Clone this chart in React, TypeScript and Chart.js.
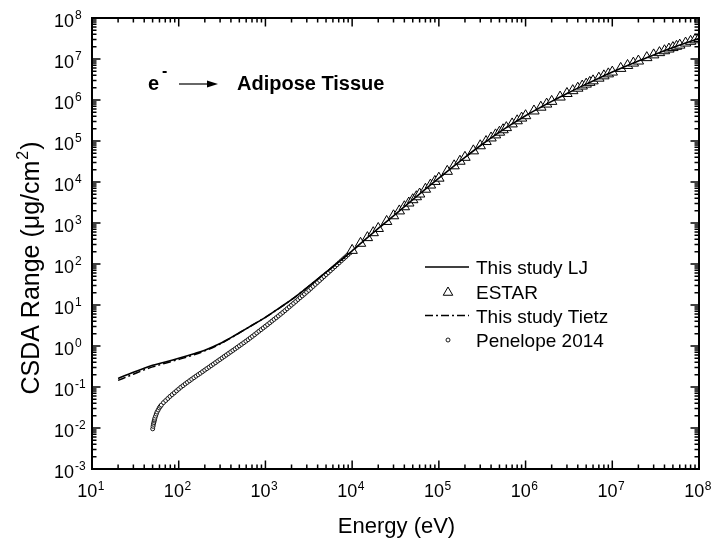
import React, { useEffect, useRef } from "react";
import { Chart, registerables } from "chart.js";
Chart.register(...registerables);

const FONT = '"Liberation Sans", Arial, Helvetica, sans-serif';

// Axis decades (tick labels 10^n)
const X_DECADES = [1, 2, 3, 4, 5, 6, 7, 8];
const Y_DECADES = [-3, -2, -1, 0, 1, 2, 3, 4, 5, 6, 7, 8];

// This study LJ (energy eV, CSDA range ug/cm2)
const LJ_E = [20, 30, 40, 50, 70, 100, 150, 200, 300, 400, 500, 700, 1000, 1500, 2000, 3000, 5000, 7000,
  1e4, 1.5e4, 2e4, 3e4, 5e4, 7e4, 1e5, 1.5e5, 2e5, 3e5, 5e5, 7e5, 1e6, 1.5e6, 2e6, 3e6, 5e6, 7e6,
  1e7, 1.5e7, 2e7, 3e7, 5e7, 7e7, 1e8];
const LJ_R = [0.162, 0.229, 0.288, 0.339, 0.407, 0.5, 0.646, 0.79, 1.15, 1.6, 2.1, 3.2, 5.0, 8.9, 13.5, 26.3, 63, 112,
  209, 440, 735, 1500, 3700, 6670, 12400, 24800, 40000, 76500, 164000, 261000, 414000, 668000, 925000, 1.44e6, 2.44e6, 3.41e6,
  4.8e6, 6.95e6, 8.92e6, 1.26e7, 1.9e7, 2.45e7, 3.16e7];

// This study Tietz
const TIETZ_E = LJ_E;
const TIETZ_R = [0.145, 0.205, 0.262, 0.31, 0.38, 0.47, 0.61, 0.76, 1.12, 1.57, 2.08, 3.2, 5.0, 8.9, 13.5, 26.3, 63, 112,
  209, 440, 735, 1500, 3700, 6670, 12400, 24800, 40000, 76500, 164000, 261000, 414000, 668000, 925000, 1.44e6, 2.44e6, 3.41e6,
  4.8e6, 6.95e6, 8.92e6, 1.26e7, 1.9e7, 2.45e7, 3.16e7];

// ESTAR
const ESTAR_E = [1e4, 1.25e4, 1.5e4, 1.75e4, 2e4, 2.5e4, 3e4, 3.5e4, 4e4, 4.5e4, 5e4, 5.5e4, 6e4, 7e4, 8e4, 9e4,
  1e5, 1.25e5, 1.5e5, 1.75e5, 2e5, 2.5e5, 3e5, 3.5e5, 4e5, 4.5e5, 5e5, 5.5e5, 6e5, 7e5, 8e5, 9e5,
  1e6, 1.25e6, 1.5e6, 1.75e6, 2e6, 2.5e6, 3e6, 3.5e6, 4e6, 4.5e6, 5e6, 5.5e6, 6e6, 7e6, 8e6, 9e6,
  1e7, 1.25e7, 1.5e7, 1.75e7, 2e7, 2.5e7, 3e7, 3.5e7, 4e7, 4.5e7, 5e7, 5.5e7, 6e7, 7e7, 8e7, 9e7, 1e8];
const ESTAR_R = [215, 320, 440, 580, 735, 1090, 1500, 1970, 2490, 3070, 3700, 4370, 5090, 6670, 8420, 10330,
  12400, 18200, 24800, 32100, 40000, 57500, 76500, 97000, 118500, 141000, 164000, 188000, 212000, 261000, 311000, 362000,
  414000, 540000, 668000, 796000, 925000, 1.18e6, 1.44e6, 1.69e6, 1.94e6, 2.19e6, 2.44e6, 2.69e6, 2.93e6, 3.41e6, 3.88e6, 4.34e6,
  4.8e6, 5.9e6, 6.95e6, 7.95e6, 8.92e6, 1.08e7, 1.26e7, 1.43e7, 1.59e7, 1.75e7, 1.9e7, 2.04e7, 2.18e7, 2.45e7, 2.7e7, 2.94e7, 3.16e7];

// Penelope 2014
const PEN_E = [50.1, 50.6, 51.1, 51.6, 52.1, 52.6, 53.1, 54.1, 55.1, 56.2, 57.9, 59.6, 61.3, 63.1, 66.8, 70.8, 75.0, 79.4, 84.1, 89.1, 94.4,
  100, 105.9, 112.2, 118.9, 125.9, 133.4, 141.3, 149.6, 158.5, 167.9, 177.8, 188.4, 199.5, 211.3, 223.9, 237.1,
  251.2, 266.1, 281.8, 298.5, 316.2, 335.0, 354.8, 375.8, 398.1, 421.7, 446.7, 473.2, 501.2, 530.9, 562.3, 595.7,
  631.0, 668.3, 707.9, 749.9, 794.3, 841.4, 891.3, 944.1,
  1000, 1059, 1122, 1189, 1259, 1334, 1413, 1496, 1585, 1679, 1778, 1884, 1995, 2113, 2239, 2371,
  2512, 2661, 2818, 2985, 3162, 3350, 3548, 3758, 3981, 4217, 4467, 4732, 5012, 5309, 5623, 5957,
  6310, 6683, 7079, 7499, 7943, 8414, 8913, 9441, 10000];
const PEN_R = [0.00955, 0.011, 0.0123, 0.0135, 0.0148, 0.016, 0.0174, 0.0195, 0.0219, 0.0245, 0.0275, 0.0309, 0.0337, 0.0363,
  0.0417, 0.0468, 0.0525, 0.0589, 0.0653, 0.0724, 0.0804,
  0.0891, 0.0989, 0.108, 0.119, 0.13, 0.142, 0.155, 0.169, 0.184, 0.2, 0.217, 0.237, 0.258, 0.281, 0.305, 0.333,
  0.362, 0.394, 0.43, 0.468, 0.509, 0.555, 0.604, 0.658, 0.716, 0.78, 0.849, 0.925, 1.01, 1.1, 1.2, 1.31,
  1.43, 1.57, 1.72, 1.89, 2.08, 2.29, 2.51, 2.76,
  3.03, 3.33, 3.67, 4.05, 4.46, 4.91, 5.41, 5.96, 6.58, 7.29, 8.09, 8.97, 9.95, 11.0, 12.2, 13.6,
  15.1, 16.7, 18.5, 20.6, 22.8, 25.5, 28.4, 31.8, 35.5, 39.6, 44.3, 49.4, 55.2, 61.7, 68.9, 76.9,
  85.9, 95.9, 107, 120, 134, 149, 167, 186, 208];

const LEGEND = ["This study LJ", "ESTAR", "This study Tietz", "Penelope 2014"];

const pts = (e: number[], r: number[]) => e.map((x, i) => ({ x, y: r[i] }));

const drawTriangle = (ctx: CanvasRenderingContext2D, x: number, y: number, r: number) => {
  ctx.beginPath();
  let rad = 0;
  ctx.moveTo(x + Math.sin(rad) * r, y - Math.cos(rad) * r);
  rad += (2 * Math.PI) / 3;
  ctx.lineTo(x + Math.sin(rad) * r, y - Math.cos(rad) * r);
  rad += (2 * Math.PI) / 3;
  ctx.lineTo(x + Math.sin(rad) * r, y - Math.cos(rad) * r);
  ctx.closePath();
  ctx.fillStyle = "#fff";
  ctx.fill();
  ctx.stroke();
};

const decorPlugin = {
  id: "decor",
  afterDraw(chart: any) {
    const { ctx, chartArea: a } = chart;
    const xs = chart.scales.x;
    const ys = chart.scales.y;
    ctx.save();
    ctx.strokeStyle = "#000";
    ctx.fillStyle = "#000";
    ctx.lineWidth = 1.5;
    ctx.setLineDash([]);
    // x ticks (inward, bottom and top)
    for (let d = 1; d <= 8; d++) {
      for (let m = 1; m <= 9; m++) {
        const v = m * Math.pow(10, d);
        if (v > 1e8) break;
        const px = xs.getPixelForValue(v);
        const len = m === 1 ? 8.5 : 4.5;
        ctx.beginPath();
        ctx.moveTo(px, a.bottom);
        ctx.lineTo(px, a.bottom - len);
        ctx.moveTo(px, a.top);
        ctx.lineTo(px, a.top + len);
        ctx.stroke();
      }
    }
    // y ticks (inward, left and right)
    for (let d = -3; d <= 8; d++) {
      for (let m = 1; m <= 9; m++) {
        const v = m * Math.pow(10, d);
        if (v > 1e8) break;
        const py = ys.getPixelForValue(v);
        const len = m === 1 ? 8.5 : 4.5;
        ctx.beginPath();
        ctx.moveTo(a.left, py);
        ctx.lineTo(a.left + len, py);
        ctx.moveTo(a.right, py);
        ctx.lineTo(a.right - len, py);
        ctx.stroke();
      }
    }
    // frame
    ctx.lineWidth = 2;
    ctx.strokeRect(a.left, a.top, a.right - a.left, a.bottom - a.top);

    // x tick labels
    ctx.textBaseline = "alphabetic";
    X_DECADES.forEach((n) => {
      const px = xs.getPixelForValue(Math.pow(10, n));
      ctx.font = `18px ${FONT}`;
      const w = ctx.measureText("10").width;
      ctx.font = `12px ${FONT}`;
      const ws = ctx.measureText(String(n)).width;
      const start = px - 1.5 - (w + ws) / 2;
      ctx.textAlign = "left";
      ctx.font = `18px ${FONT}`;
      ctx.fillText("10", start, a.bottom + 28);
      ctx.font = `12px ${FONT}`;
      ctx.fillText(String(n), start + w + 0.5, a.bottom + 21);
    });
    // y tick labels
    Y_DECADES.forEach((n) => {
      const py = ys.getPixelForValue(Math.pow(10, n));
      ctx.font = `18px ${FONT}`;
      ctx.textAlign = "right";
      ctx.fillText("10", 74, py + 8.5);
      ctx.font = `12px ${FONT}`;
      ctx.textAlign = "left";
      ctx.fillText(String(n), 75, py + 1);
    });

    // x title
    ctx.font = `22px ${FONT}`;
    ctx.textAlign = "center";
    ctx.fillText("Energy (eV)", (a.left + a.right) / 2 + 1, 533);

    // y title (rotated)
    ctx.save();
    ctx.translate(39, 268);
    ctx.rotate(-Math.PI / 2);
    const main = "CSDA Range (\u03bcg/cm";
    ctx.font = `25px ${FONT}`;
    const w1 = ctx.measureText(main).width;
    ctx.font = `16px ${FONT}`;
    const w2 = ctx.measureText("2").width;
    ctx.font = `25px ${FONT}`;
    const w3 = ctx.measureText(")").width;
    let sx = -(w1 + w2 + w3 + 2) / 2;
    ctx.textAlign = "left";
    ctx.fillText(main, sx, 0);
    sx += w1 + 1;
    ctx.font = `16px ${FONT}`;
    ctx.fillText("2", sx, -11);
    sx += w2 + 1;
    ctx.font = `25px ${FONT}`;
    ctx.fillText(")", sx, 0);
    ctx.restore();

    // annotation
    ctx.font = `bold 20px ${FONT}`;
    ctx.textAlign = "left";
    ctx.fillText("e", 148, 90);
    ctx.font = `bold 16px ${FONT}`;
    ctx.fillText("-", 162, 76);
    ctx.lineWidth = 1.2;
    ctx.beginPath();
    ctx.moveTo(179, 84);
    ctx.lineTo(210, 84);
    ctx.stroke();
    ctx.beginPath();
    ctx.moveTo(218, 84);
    ctx.lineTo(207, 80.5);
    ctx.lineTo(207, 87.5);
    ctx.closePath();
    ctx.fill();
    ctx.font = `bold 20px ${FONT}`;
    ctx.fillText("Adipose Tissue", 237, 90);

    // legend
    const rows = [267, 291.5, 315.5, 340];
    ctx.font = `19px ${FONT}`;
    ctx.textAlign = "left";
    LEGEND.forEach((t, i) => ctx.fillText(t, 476, rows[i] + 7));
    ctx.lineWidth = 1.6;
    ctx.beginPath();
    ctx.moveTo(425, rows[0]);
    ctx.lineTo(469, rows[0]);
    ctx.stroke();
    ctx.lineWidth = 1;
    drawTriangle(ctx, 448, rows[1] + 1, 5.5);
    ctx.lineWidth = 1.6;
    ctx.setLineDash([8, 3, 2, 3]);
    ctx.beginPath();
    ctx.moveTo(425, rows[2]);
    ctx.lineTo(469, rows[2]);
    ctx.stroke();
    ctx.setLineDash([]);
    ctx.lineWidth = 0.9;
    ctx.beginPath();
    ctx.arc(448, rows[3], 2, 0, Math.PI * 2);
    ctx.fillStyle = "#fff";
    ctx.fill();
    ctx.stroke();
    ctx.restore();
  },
};

export default function App() {
  const ref = useRef<HTMLCanvasElement>(null);
  useEffect(() => {
    const chart = new Chart(ref.current as HTMLCanvasElement, {
      type: "scatter",
      data: {
        datasets: [
          {
            label: LEGEND[0],
            data: pts(LJ_E, LJ_R),
            showLine: true,
            pointRadius: 0,
            borderColor: "#000",
            borderWidth: 1.6,
            cubicInterpolationMode: "monotone",
          },
          {
            label: LEGEND[1],
            data: pts(ESTAR_E, ESTAR_R),
            showLine: false,
            pointStyle: "triangle",
            pointRadius: 6,
            borderColor: "#000",
            backgroundColor: "#fff",
            borderWidth: 1,
          },
          {
            label: LEGEND[2],
            data: pts(TIETZ_E, TIETZ_R),
            showLine: true,
            pointRadius: 0,
            borderColor: "#000",
            borderWidth: 1.5,
            borderDash: [8, 3, 2, 3],
            cubicInterpolationMode: "monotone",
          },
          {
            label: LEGEND[3],
            data: pts(PEN_E, PEN_R),
            showLine: false,
            pointStyle: "circle",
            pointRadius: 2,
            borderColor: "#000",
            backgroundColor: "#fff",
            borderWidth: 0.9,
          },
        ],
      } as any,
      options: {
        responsive: false,
        animation: false,
        devicePixelRatio: 1,
        events: [],
        layout: { padding: { left: 92, top: 18, right: 15, bottom: 75 } },
        scales: {
          x: { type: "logarithmic", min: 10, max: 1e8, display: false },
          y: { type: "logarithmic", min: 1e-3, max: 1e8, display: false },
        },
        plugins: { legend: { display: false }, tooltip: { enabled: false } },
      } as any,
      plugins: [decorPlugin],
    });
    return () => chart.destroy();
  }, []);
  return (
    <div style={{ position: "absolute", left: 0, top: 0, width: 714, height: 544, background: "#fff" }}>
      <canvas ref={ref} width={714} height={544} style={{ display: "block" }} />
    </div>
  );
}
